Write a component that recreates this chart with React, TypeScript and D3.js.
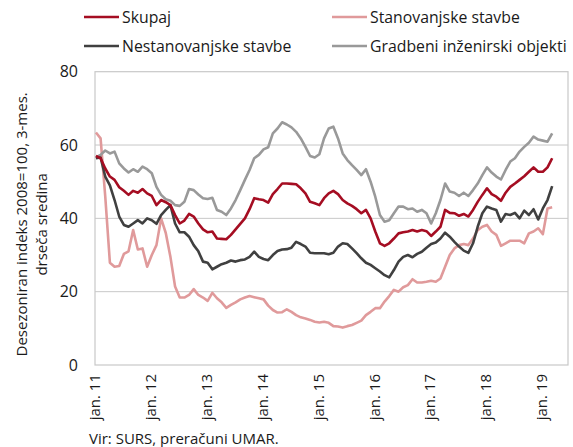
import React, { useRef, useEffect } from 'react';
import * as d3 from 'd3';

const W = 573;
const H = 447;
const FONT = '"Open Sans", "Liberation Sans", sans-serif';

// monthly, jan 2011 .. mar 2019
const skupaj = [
  57, 56.4, 53.6, 51.4, 50.5, 48.5, 47.5, 46.4, 47.5, 47, 48, 46.8, 46.1, 43.6, 45, 44.4, 43.6, 40.9, 38.6, 39.4, 41.2, 40.5, 38.6, 37, 36.2,
  36.4, 34.5, 34.4, 34.3, 35.5, 37, 38.5, 40, 42.5, 45.5, 45.2, 45, 44.3, 46.6, 48, 49.5, 49.5, 49.4, 49.3, 48.2, 46.8, 44.5, 44.1, 43.6,
  45.5, 46.8, 47.5, 46.6, 45, 44.1, 43.4, 42.5, 41.4, 42.3, 40, 36.4, 33.2, 32.5, 33.2, 34.5, 35.9, 36.2, 36.4, 36.8, 36.4, 36.8, 36.5,
  35.2, 36.4, 37.7, 42.3, 41.5, 41.4, 40.7, 41.2, 40.5, 42.3, 44.5, 46.4, 48.2, 46.6, 45.9, 44.8, 47, 48.6, 49.5, 50.5, 51.5, 52.7, 53.9, 52.7, 52.7, 53.9, 56.4,
];
const stanovanjske = [
  63.4, 61.8, 46, 27.9, 26.8, 27, 30.3, 31, 36.8, 31.5, 31.8, 26.8, 30, 32.7, 40, 36, 29.5, 21.4, 18.4, 18.4, 19.1, 20.7, 19.1, 18.4, 17.5,
  19.7, 18.2, 17.1, 15.6, 16.4, 17.1, 17.9, 18.4, 18.8, 18.5, 18.2, 17.9, 16.2, 15, 14.3, 14.4, 15.2, 14.5, 13.6, 13, 12.7, 12.3, 11.8, 11.6,
  11.8, 11.5, 10.6, 10.5, 10.2, 10.6, 10.9, 11.5, 12.1, 13.6, 14.5, 15.5, 15.5, 17.3, 18.8, 20.5, 20, 21.2, 21.8, 23.4, 22.5, 22.5, 22.7,
  23, 22.7, 23.6, 26.8, 30, 31.8, 32.7, 33, 32.7, 34.5, 36.8, 37.7, 38.2, 36.4, 35.5, 32.5, 33.2, 33.9, 33.9, 33.9, 33.2, 35.9, 36.4, 37.3, 35.7, 42.7, 43,
];
const nestanovanjske = [
  56.4, 56.6, 51.4, 49, 45, 40.5, 38.2, 37.7, 38.6, 39.5, 38.6, 40, 39.5, 38.5, 40.9, 42.3, 43.6, 38.6, 36.2, 36.2, 35, 32.7, 31, 28.2, 27.9,
  26.1, 26.8, 27.5, 27.9, 28.5, 28.2, 28.6, 28.8, 29.5, 30.9, 29.5, 28.9, 28.6, 30, 31.1, 31.5, 31.6, 32, 33.6, 33, 32.3, 30.6, 30.5, 30.5,
  30.5, 30.2, 30.6, 32.3, 33.2, 33, 31.8, 30.5, 29.1, 27.9, 27.3, 26.4, 25.5, 24.5, 23.9, 25.9, 28.2, 29.5, 30, 29.4, 30.3, 30.9, 32,
  33, 33.4, 34.5, 36.1, 35, 33.6, 32.3, 31.2, 30.6, 33.2, 37.7, 41.4, 43.2, 42.7, 42.3, 39.1, 41.2, 40.9, 41.5, 40, 42.1, 40.9, 42.5, 39.7, 42.7, 45, 48.8,
];
const gradbeni = [
  56.6, 57.3, 58.5, 57.7, 58.2, 55, 53.6, 52.5, 53.4, 52.7, 54.1, 53.4, 52.3, 48.6, 46.4, 45.2, 44.8, 43.6, 43.4, 44.5, 48, 47.7, 46.5, 45.5, 45.3,
  45.6, 42.3, 41.8, 40.9, 42.7, 45, 47.7, 50.5, 53.2, 56.4, 57.3, 58.8, 59.4, 63.2, 64.5, 66.2, 65.6, 64.8, 63.6, 61.8, 59.5, 57, 56.6, 57.5,
  61.8, 64.5, 65, 61.8, 57.7, 55.9, 54.5, 53.2, 51.8, 53.4, 50, 45.9, 40.9, 39.1, 39.5, 41.4, 43.2, 43.2, 42.5, 42.7, 41.8, 42.3, 41.4,
  38.6, 41.4, 45, 49.5, 47.3, 47, 46.1, 47, 46.1, 47.7, 49.5, 51.8, 53.9, 52.5, 51.4, 50.6, 53.2, 55.5, 56.4, 58.2, 59.5, 60.6, 62.3, 61.5, 61.2, 60.9, 63.2,
];

const yTicks = [0, 20, 40, 60, 80];
const xLabels = ['jan. 11', 'jan. 12', 'jan. 13', 'jan. 14', 'jan. 15', 'jan. 16', 'jan. 17', 'jan. 18', 'jan. 19'];

const series = [
  { name: 'Skupaj', values: skupaj, color: '#a50d22' },
  { name: 'Stanovanjske stavbe', values: stanovanjske, color: '#e09a9b' },
  { name: 'Nestanovanjske stavbe', values: nestanovanjske, color: '#404040' },
  { name: 'Gradbeni inženirski objekti', values: gradbeni, color: '#999999' },
];

const draw = (el: SVGSVGElement) => {
  const svg = d3.select(el);
  svg.selectAll('*').remove();

  const left = 95, right = 568, top = 71.7, bottom = 365;
  const x = d3.scaleLinear().domain([-0.2, 101.4]).range([left, right]);
  const y = d3.scaleLinear().domain([0, 80]).range([bottom, top]);

  // grid
  svg.append('g')
    .selectAll('line')
    .data(yTicks.slice(1, -1))
    .join('line')
    .attr('x1', left).attr('x2', right)
    .attr('y1', d => y(d)).attr('y2', d => y(d))
    .attr('stroke', '#c8c8c8').attr('stroke-width', 1);

  svg.append('rect')
    .attr('x', left).attr('y', top)
    .attr('width', right - left).attr('height', bottom - top)
    .attr('fill', 'none').attr('stroke', '#c8c8c8').attr('stroke-width', 1.2);

  // y labels
  svg.append('g')
    .selectAll('text')
    .data(yTicks)
    .join('text')
    .attr('x', 78).attr('y', d => y(d))
    .attr('dy', '0.35em')
    .attr('text-anchor', 'end')
    .attr('font-family', FONT).attr('font-size', 16).attr('fill', '#1a1a1a')
    .text(d => d);

  // x labels
  svg.append('g')
    .selectAll('text')
    .data(xLabels)
    .join('text')
    .attr('transform', (d, i) => `translate(${x(i * 12) - 1},${bottom + 9}) rotate(-90)`)
    .attr('dy', '0.35em')
    .attr('text-anchor', 'end')
    .attr('font-family', FONT).attr('font-size', 15).attr('fill', '#1a1a1a')
    .text(d => d);

  // y title
  const yt = svg.append('text')
    .attr('transform', `translate(22,${(top + bottom) / 2 + 6}) rotate(-90)`)
    .attr('text-anchor', 'middle')
    .attr('font-family', FONT).attr('font-size', 15).attr('fill', '#1a1a1a');
  yt.append('tspan').attr('x', 0).attr('dy', '0.35em').text('Desezoniran indeks 2008=100, 3-mes.');
  yt.append('tspan').attr('x', 0).attr('dy', 20).text('drseča sredina');

  // lines
  const line = d3.line<number>()
    .x((d, i) => x(i))
    .y(d => y(d));

  svg.append('g')
    .selectAll('path')
    .data([series[1], series[3], series[2], series[0]])
    .join('path')
    .attr('d', d => line(d.values))
    .attr('fill', 'none')
    .attr('stroke', d => d.color)
    .attr('stroke-width', 2.6)
    .attr('stroke-linejoin', 'round');

  // legend
  const legPos = [[84, 17], [332, 17], [84, 46], [332, 46]];
  const leg = svg.append('g')
    .selectAll('g')
    .data(series)
    .join('g')
    .attr('transform', (d, i) => `translate(${legPos[i][0]},${legPos[i][1]})`);
  leg.append('line')
    .attr('x1', 0).attr('x2', 35)
    .attr('stroke', d => d.color).attr('stroke-width', 2.6);
  leg.append('text')
    .attr('x', 38).attr('dy', '0.35em')
    .attr('font-family', FONT).attr('font-size', 15.8).attr('fill', '#1a1a1a')
    .text(d => d.name);

  svg.append('text')
    .attr('x', 89).attr('y', 439).attr('dy', '0.35em')
    .attr('font-family', FONT).attr('font-size', 15).attr('fill', '#1a1a1a')
    .text('Vir: SURS, preračuni UMAR.');
};

export default function App() {
  const ref = useRef<SVGSVGElement>(null);
  useEffect(() => {
    if (ref.current) draw(ref.current);
  }, []);
  return (
    <svg
      ref={ref}
      width={W}
      height={H}
      style={{ position: 'absolute', left: 0, top: 0, background: '#fff' }}
    />
  );
}
